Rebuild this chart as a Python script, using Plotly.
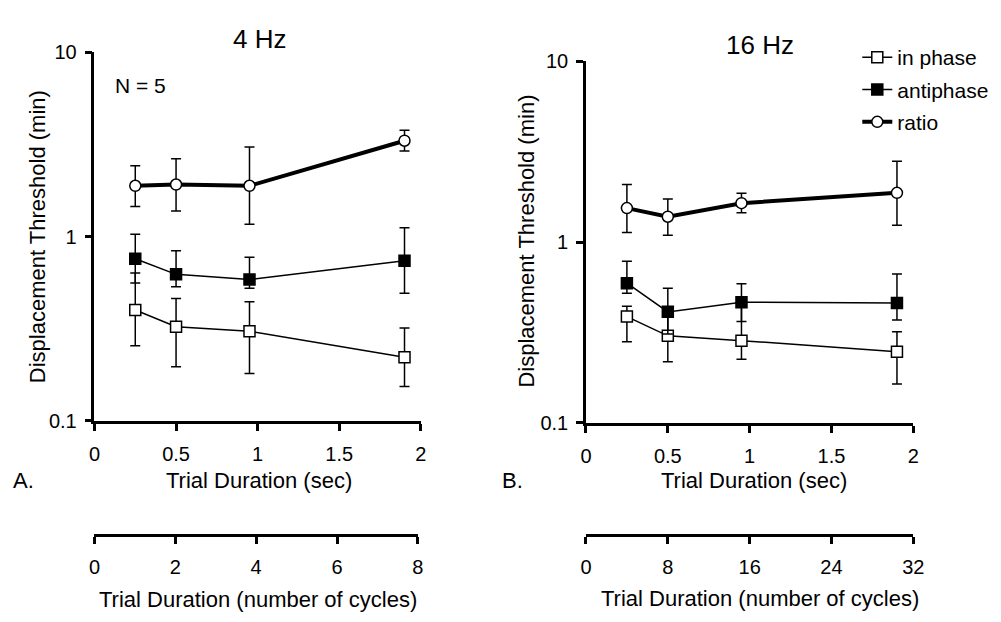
import plotly.graph_objects as go

# ---------------- data ----------------
trial_sec = [0.25, 0.5, 0.95, 1.9]

# 4 Hz panel
in_phase_4 = [0.40, 0.325, 0.307, 0.222]
in_phase_4_hi = [0.635, 0.462, 0.443, 0.32]
in_phase_4_lo = [0.256, 0.197, 0.181, 0.154]
anti_4 = [0.76, 0.625, 0.586, 0.74]
anti_4_hi = [1.03, 0.84, 0.773, 1.12]
anti_4_lo = [0.56, 0.535, 0.525, 0.493]
ratio_4 = [1.89, 1.92, 1.89, 3.32]
ratio_4_hi = [2.43, 2.65, 3.07, 3.78]
ratio_4_lo = [1.46, 1.38, 1.17, 2.92]

# 16 Hz panel
in_phase_16 = [0.387, 0.303, 0.285, 0.247]
in_phase_16_hi = [0.441, 0.40, 0.45, 0.319]
in_phase_16_lo = [0.281, 0.218, 0.225, 0.164]
anti_16 = [0.592, 0.411, 0.465, 0.46]
anti_16_hi = [0.784, 0.555, 0.587, 0.665]
anti_16_lo = [0.521, 0.31, 0.364, 0.371]
ratio_16 = [1.54, 1.38, 1.64, 1.87]
ratio_16_hi = [2.08, 1.73, 1.86, 2.80]
ratio_16_lo = [1.13, 1.09, 1.45, 1.24]

sec_ticks = [0, 0.5, 1, 1.5, 2]
sec_ticktext = ["0", "0.5", "1", "1.5", "2"]
cyc4_ticks = [0, 2, 4, 6, 8]
cyc16_ticks = [0, 8, 16, 24, 32]
y_ticks = [0.1, 1, 10]
y_ticktext = ["0.1", "1", "10"]

series_names = ["in phase", "antiphase", "ratio"]

# ---------------- figure ----------------
W, H = 1001, 622
FONT = "Liberation Sans, Arial, sans-serif"


def px_x(p):
    return p / W


def px_y(p):
    return 1 - p / H


fig = go.Figure()


def add_series(xref, yref, vals, hi, lo, name, symbol, fill, lw, show):
    fig.add_trace(go.Scatter(
        x=trial_sec, y=vals, xaxis=xref, yaxis=yref,
        mode="lines+markers", name=name, showlegend=show,
        legendgroup=name,
        line=dict(color="black", width=lw),
        marker=dict(symbol=symbol, size=11, color=fill,
                    line=dict(color="black", width=1.5)),
        error_y=dict(type="data", symmetric=False,
                     array=[h - v for h, v in zip(hi, vals)],
                     arrayminus=[v - l for l, v in zip(lo, vals)],
                     color="black", thickness=1.5, width=5),
    ))


add_series("x", "y", in_phase_4, in_phase_4_hi, in_phase_4_lo, series_names[0], "square", "white", 1.5, False)
add_series("x", "y", anti_4, anti_4_hi, anti_4_lo, series_names[1], "square", "black", 1.5, False)
add_series("x", "y", ratio_4, ratio_4_hi, ratio_4_lo, series_names[2], "circle", "white", 4, False)
add_series("x2", "y2", in_phase_16, in_phase_16_hi, in_phase_16_lo, series_names[0], "square", "white", 1.5, True)
add_series("x2", "y2", anti_16, anti_16_hi, anti_16_lo, series_names[1], "square", "black", 1.5, True)
add_series("x2", "y2", ratio_16, ratio_16_hi, ratio_16_lo, series_names[2], "circle", "white", 4, True)

# invisible carriers so the "number of cycles" axes get drawn
for xr, yr, ticks in (("x3", "y3", cyc4_ticks), ("x4", "y4", cyc16_ticks)):
    fig.add_trace(go.Scatter(x=ticks, y=[0.5] * len(ticks), xaxis=xr, yaxis=yr,
                             mode="markers", marker=dict(opacity=0),
                             hoverinfo="skip", showlegend=False))

axis_common = dict(showline=True, linecolor="black", linewidth=2.5, showgrid=False,
                   zeroline=False, ticks="outside", ticklen=7, tickwidth=2.5,
                   tickcolor="black", tickfont=dict(family=FONT, size=20, color="black"))

x_common = dict(axis_common, range=[0, 2], tickvals=sec_ticks, ticktext=sec_ticktext,
                ticklabelstandoff=6)
y_common = dict(axis_common, type="log", range=[-1, 1], tickvals=y_ticks,
                ticktext=y_ticktext, ticklabelstandoff=4)

fig.update_layout(
    width=W, height=H,
    margin=dict(l=0, r=0, t=0, b=0),
    paper_bgcolor="white", plot_bgcolor="white",
    font=dict(family=FONT, color="black"),
    xaxis=dict(x_common, domain=[px_x(90), px_x(422)], anchor="y"),
    yaxis=dict(y_common, domain=[px_y(425), px_y(43)], anchor="x"),
    xaxis2=dict(x_common, domain=[px_x(590), px_x(923)], anchor="y2"),
    yaxis2=dict(y_common, domain=[px_y(427), px_y(52)], anchor="x2"),
    xaxis3=dict(axis_common, domain=[px_x(90), px_x(419)], anchor="y3",
                range=[0, 8], tickvals=cyc4_ticks, ticklabelstandoff=6),
    yaxis3=dict(domain=[px_y(542), px_y(530)], anchor="x3", range=[0, 1], visible=False),
    xaxis4=dict(axis_common, domain=[px_x(590), px_x(923)], anchor="y4",
                range=[0, 32], tickvals=cyc16_ticks, ticklabelstandoff=6),
    yaxis4=dict(domain=[px_y(542), px_y(530)], anchor="x4", range=[0, 1], visible=False),
    showlegend=True,
    legend=dict(x=px_x(866), y=px_y(27), xanchor="left", yanchor="top",
                font=dict(family=FONT, size=21, color="black"),
                bgcolor="rgba(0,0,0,0)", tracegroupgap=2, itemwidth=30),
)

annots = [
    ("4 Hz", 258, 29, 26, 0),
    ("16 Hz", 767, 35, 26, 0),
    ("N = 5", 137, 77, 21, 0),
    ("A.", 18, 487, 22, 0),
    ("B.", 515, 487, 22, 0),
    ("Trial Duration (sec)", 257, 487, 22, 0),
    ("Trial Duration (sec)", 761, 487, 22, 0),
    ("Trial Duration (number of cycles)", 256, 610, 22, 0),
    ("Trial Duration (number of cycles)", 767, 609, 22, 0),
    ("Displacement Threshold (min)", 32, 234, 22, -90),
    ("Displacement Threshold (min)", 530, 238, 22, -90),
]
for text, ax, ay, size, ang in annots:
    fig.add_annotation(text=text, x=px_x(ax), y=px_y(ay), xref="paper", yref="paper",
                       showarrow=False, xanchor="center", yanchor="middle",
                       textangle=ang, font=dict(family=FONT, size=size, color="black"))

fig.write_html("out.html")
